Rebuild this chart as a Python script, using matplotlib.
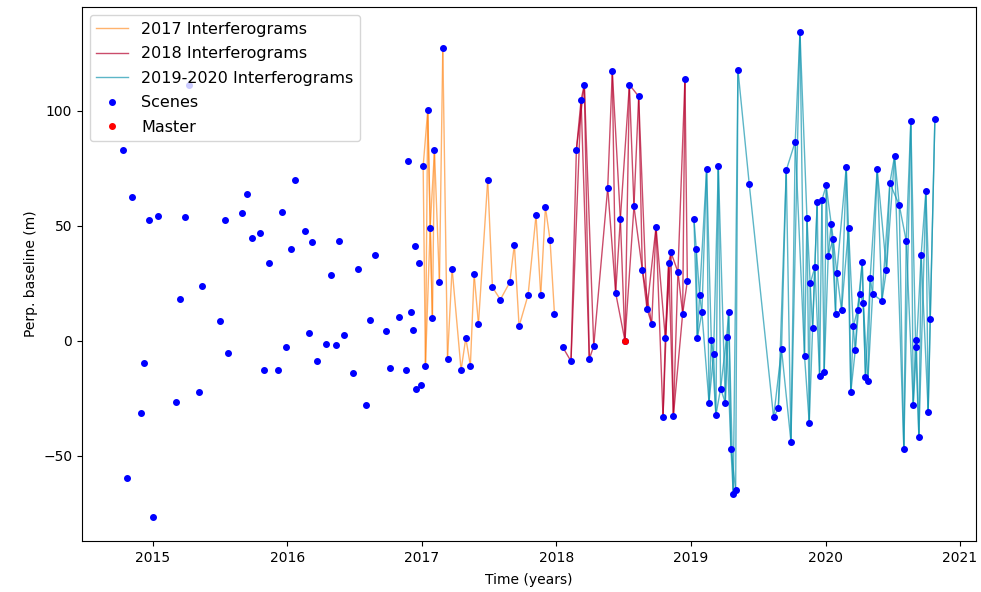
import numpy as np
import matplotlib
matplotlib.use("Agg")
import matplotlib.pyplot as plt

# scenes acquired before the interferogram stacks (decimal year, perp. baseline in m)
early_dates = [2014.775, 2014.807, 2014.842, 2014.909, 2014.936, 2014.971, 2015.003, 2015.040,
               2015.169, 2015.201, 2015.238, 2015.270, 2015.340, 2015.364, 2015.500, 2015.535,
               2015.560, 2015.664, 2015.699, 2015.733, 2015.793, 2015.827, 2015.862, 2015.931,
               2015.963, 2015.988, 2016.025, 2016.058, 2016.127, 2016.162, 2016.186, 2016.221,
               2016.290, 2016.325, 2016.360, 2016.385, 2016.419, 2016.486, 2016.521, 2016.583,
               2016.612, 2016.652, 2016.736, 2016.761, 2016.828, 2016.880, 2016.897, 2016.917,
               2016.932, 2016.949, 2016.957, 2016.977, 2016.991]
early_bperp = [82.7, -59.6, 62.5, -31.4, -9.8, 52.5, -76.5, 54.4,
               -26.4, 18.3, 54.0, 111.2, -22.3, 23.9, 8.5, 52.5,
               -5.2, 55.5, 64.0, 44.5, 47.0, -12.7, 33.9, -12.7,
               56.1, -2.7, 40.0, 70.0, 47.5, 3.3, 43.0, -8.7,
               -1.2, 28.4, -1.7, 43.4, 2.3, -14.2, 31.4, -27.8,
               8.9, 37.4, 4.3, -11.7, 10.2, -12.7, 78.1, 12.3,
               4.8, 41.4, -20.8, 33.9, -19.3]

dates_2017 = [2017.009, 2017.026, 2017.043, 2017.061, 2017.078, 2017.093, 2017.130, 2017.155,
              2017.190, 2017.224, 2017.291, 2017.326, 2017.360, 2017.388, 2017.420, 2017.489,
              2017.524, 2017.583, 2017.653, 2017.687, 2017.722, 2017.789, 2017.848, 2017.883,
              2017.918, 2017.952, 2017.985]
bperp_2017 = [75.9, -10.8, 100.1, 49.0, 9.8, 82.7, 25.4, 127.3,
              -7.9, 31.4, -12.7, 1.2, -10.8, 28.9, 7.3, 70.0,
              23.3, 17.9, 25.4, 41.8, 6.3, 19.9, 54.5, 19.9,
              58.0, 43.9, 11.8]

dates_2018 = [2018.046, 2018.108, 2018.148, 2018.183, 2018.207, 2018.244, 2018.277, 2018.381,
              2018.415, 2018.440, 2018.475, 2018.509, 2018.542, 2018.576, 2018.611, 2018.638,
              2018.673, 2018.708, 2018.740, 2018.792, 2018.809, 2018.834, 2018.851, 2018.869,
              2018.903, 2018.938, 2018.955, 2018.973]
bperp_2018 = [-2.7, -8.9, 83.1, 104.7, 111.3, -7.9, -2.3, 66.5,
              117.2, 20.8, 53.0, 0.0, 111.3, 58.4, 106.2, 30.9,
              13.9, 7.4, 49.5, -33.3, 1.2, 33.9, 38.4, -32.8,
              29.9, 11.8, 113.8, 26.0]

dates_1920 = [2019.022, 2019.039, 2019.047, 2019.064, 2019.081, 2019.116, 2019.134, 2019.151,
              2019.168, 2019.185, 2019.203, 2019.220, 2019.255, 2019.265, 2019.280, 2019.297,
              2019.314, 2019.332, 2019.349, 2019.433, 2019.614, 2019.649, 2019.673, 2019.708,
              2019.743, 2019.775, 2019.810, 2019.844, 2019.862, 2019.879, 2019.886, 2019.904,
              2019.921, 2019.938, 2019.956, 2019.973, 2019.990, 2020.005, 2020.020, 2020.042,
              2020.057, 2020.075, 2020.084, 2020.119, 2020.154, 2020.171, 2020.188, 2020.206,
              2020.221, 2020.238, 2020.255, 2020.273, 2020.280, 2020.297, 2020.315, 2020.332,
              2020.350, 2020.384, 2020.419, 2020.453, 2020.478, 2020.513, 2020.548, 2020.582,
              2020.600, 2020.634, 2020.652, 2020.669, 2020.676, 2020.694, 2020.711, 2020.746,
              2020.763, 2020.778, 2020.813]
bperp_1920 = [53.0, 40.0, 1.2, 19.9, 12.3, 74.6, -26.9, 0.2,
              -5.7, -32.4, 76.1, -20.8, -26.9, 1.7, 12.3, -46.9,
              -66.6, -64.9, 117.8, 68.1, -33.3, -29.3, -3.7, 74.1,
              -43.9, 86.6, 134.4, -6.7, 53.4, -35.8, 24.9, 5.4,
              32.0, 60.5, -15.2, 61.1, -13.7, 67.5, 37.0, 50.9,
              44.3, 11.8, 29.5, 13.3, 75.5, 49.0, -22.3, 6.2,
              -4.2, 13.3, 20.4, 34.3, 16.4, -15.8, -17.3, 27.4,
              20.4, 74.6, 17.3, 30.9, 68.5, 80.2, 59.0, -46.9,
              43.4, 95.6, -27.8, 0.2, -2.7, -41.8, 37.4, 65.0,
              -30.9, 9.3, 96.6]

master_date = 2018.509
master_bperp = 0.0


def make_pairs(t, max_dt):
    # consecutive scenes always paired, second neighbour only if close in time
    pairs = []
    for i in range(len(t) - 1):
        pairs.append((i, i + 1))
        if i + 2 < len(t) and t[i + 2] - t[i] <= max_dt:
            pairs.append((i, i + 2))
    return pairs


groups = [
    (dates_2017, bperp_2017, 0.04, "#ff8a1f", 0.65, "2017 Interferograms"),
    (dates_2018, bperp_2018, 0.08, "#b5002c", 0.7, "2018 Interferograms"),
    (dates_1920, bperp_1920, 0.08, "#1797b0", 0.7, "2019-2020 Interferograms"),
]

fig, ax = plt.subplots(figsize=(9.81, 5.92), dpi=100)
fig.subplots_adjust(left=0.0836, right=0.9944, top=0.9877, bottom=0.0861)

for t, b, max_dt, color, alpha, label in groups:
    for k, (i, j) in enumerate(make_pairs(t, max_dt)):
        ax.plot([t[i], t[j]], [b[i], b[j]], color=color, alpha=alpha, lw=1.0,
                label=label if k == 0 else None, zorder=1)

all_dates = early_dates + dates_2017 + dates_2018 + dates_1920
all_bperp = early_bperp + bperp_2017 + bperp_2018 + bperp_1920
ax.plot(all_dates, all_bperp, 'o', color='blue', markersize=4, label='Scenes', zorder=2)
ax.plot(master_date, master_bperp, 'o', color='red', markersize=4, label='Master', zorder=3)

ax.set_xlabel("Time (years)", labelpad=6)
ax.set_ylabel("Perp. baseline (m)")
ax.legend(loc='upper left', fontsize=11.5, labelspacing=0.6)

plt.savefig("out.png", dpi=100)
